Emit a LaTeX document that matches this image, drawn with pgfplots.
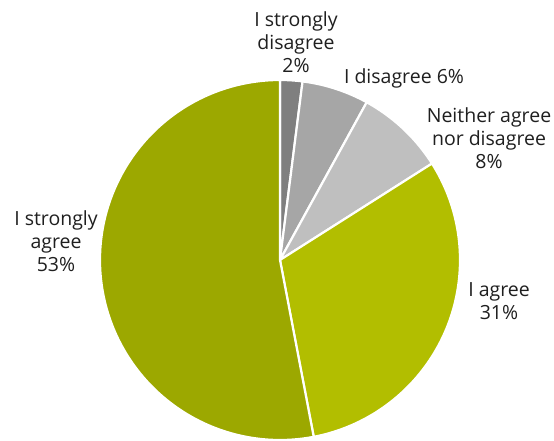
\documentclass[border=0pt]{standalone}
\usepackage{pgfplots}
\pgfplotsset{compat=1.18}
\usepackage{fontspec}
\setmainfont{Open Sans}
\definecolor{sd}{RGB}{127,127,127}
\definecolor{di}{RGB}{166,166,166}
\definecolor{ne}{RGB}{191,191,191}
\definecolor{ag}{RGB}{178,190,0}
\definecolor{sa}{RGB}{156,168,0}
% shares in percent
\def\pSD{2}\def\pDI{6}\def\pNE{8}\def\pAG{31}\def\pSA{53}
\def\cx{280}\def\cy{180}\def\rr{180}
\begin{document}
\begin{tikzpicture}
\begin{axis}[
  x=1pt, y=1pt, scale only axis,
  xmin=0, xmax=554, ymin=0, ymax=440,
  width=554pt, height=440pt,
  axis lines=none, clip=false,
  every axis plot/.append style={draw=white, line width=2.2pt, line join=round},
  samples=80,
]
\addplot[fill=sd, domain={90-3.6*\pSD}:90] ({\cx+\rr*cos(x)},{\cy+\rr*sin(x)}) -- (axis cs:\cx,\cy) -- cycle;
\addplot[fill=di, domain={90-3.6*(\pSD+\pDI)}:{90-3.6*\pSD}] ({\cx+\rr*cos(x)},{\cy+\rr*sin(x)}) -- (axis cs:\cx,\cy) -- cycle;
\addplot[fill=ne, domain={90-3.6*(\pSD+\pDI+\pNE)}:{90-3.6*(\pSD+\pDI)}] ({\cx+\rr*cos(x)},{\cy+\rr*sin(x)}) -- (axis cs:\cx,\cy) -- cycle;
\addplot[fill=ag, domain={90-3.6*(\pSD+\pDI+\pNE+\pAG)}:{90-3.6*(\pSD+\pDI+\pNE)}] ({\cx+\rr*cos(x)},{\cy+\rr*sin(x)}) -- (axis cs:\cx,\cy) -- cycle;
\addplot[fill=sa, domain={-270}:{90-3.6*(\pSD+\pDI+\pNE+\pAG)}, samples=200] ({\cx+\rr*cos(x)},{\cy+\rr*sin(x)}) -- (axis cs:\cx,\cy) -- cycle;
\begin{scope}[every node/.style={align=center, font=\fontsize{19.5}{23}\selectfont, text=black!88}]
\node at (axis cs:296,398) {I strongly\\disagree\\2\%};
\node at (axis cs:404,362) {I disagree 6\%};
\node at (axis cs:489,302) {Neither agree\\nor disagree\\8\%};
\node at (axis cs:499,139) {I agree\\31\%};
\node at (axis cs:56,199) {I strongly\\agree\\53\%};
\end{scope}
\end{axis}
\pgfresetboundingbox
\path[use as bounding box] (0,0) rectangle (554pt,440pt);
\end{tikzpicture}
\end{document}
